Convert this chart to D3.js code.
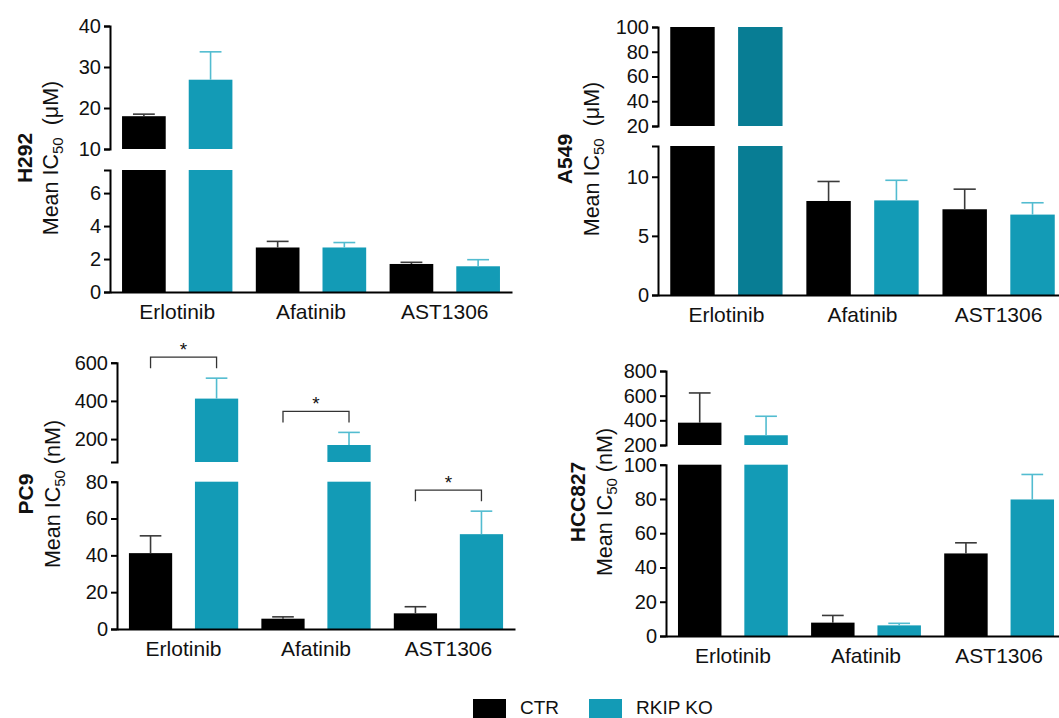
<!DOCTYPE html>
<html>
<head>
<meta charset="utf-8">
<script src="https://cdn.jsdelivr.net/npm/d3@7"></script>
<style>
  body { margin: 0; background: #fff; }
  svg { display: block; font-family: "Liberation Sans", Arial, sans-serif; }
  .axis path, .axis line { stroke: #000; stroke-width: 2; }
  .axis text { font-size: 20px; fill: #111; }
  .xlab text { font-size: 21px; }
</style>
</head>
<body>
<svg id="chart" width="1059" height="718"></svg>
<script>
// drugs and groups
var drugs = ['Erlotinib', 'Afatinib', 'AST1306'];
var groups = ['CTR', 'RKIP KO'];

// H292 (uM)
var h292Ctr    = [18.0, 2.7, 1.7];
var h292CtrErr = [0.5, 0.37, 0.1];
var h292Ko     = [26.9, 2.7, 1.56];
var h292KoErr  = [6.8, 0.3, 0.4];

// A549 (uM), erlotinib capped at 100
var a549Ctr    = [100, 7.95, 7.25];
var a549CtrErr = [0, 1.65, 1.7];
var a549Ko     = [100, 8.0, 6.8];
var a549KoErr  = [0, 1.7, 1.0];

// PC9 (nM)
var pc9Ctr    = [41.2, 5.6, 8.5];
var pc9CtrErr = [9.4, 1.0, 3.6];
var pc9Ko     = [412, 169, 51.5];
var pc9KoErr  = [107, 66, 12.5];
var pc9Sig    = ['*', '*', '*'];

// HCC827 (nM)
var hccCtr    = [381, 7.8, 48.2];
var hccCtrErr = [241, 4.2, 6.2];
var hccKo     = [279, 6.2, 79.7];
var hccKoErr  = [154, 1.2, 14.6];

var colCtr = '#000000', colKo = '#139bb6', colKoCapped = '#087d94';
var errCtr = '#3a3a3a', errKo = '#52bcd0';

var svg = d3.select('#chart');

var panels = [
  { name: 'H292', unit: '\u00a0 (\u03bcM)', ctr: h292Ctr, ctrErr: h292CtrErr, ko: h292Ko, koErr: h292KoErr,
    axisX: 110, xEnd: 512, lowDom: [0, 7.4], lowRange: [292, 170], lowTicks: [0, 2, 4, 6],
    upDom: [10, 40], upRange: [149, 26], upTicks: [10, 20, 30, 40],
    nameX: 32, titleX: 58, titleY: 158 },
  { name: 'A549', unit: '\u00a0 (\u03bcM)', ctr: a549Ctr, ctrErr: a549CtrErr, ko: a549Ko, koErr: a549KoErr,
    axisX: 658, xEnd: 1067, lowDom: [0, 12.6], lowRange: [295, 146], lowTicks: [0, 5, 10],
    upDom: [20, 100], upRange: [126, 27], upTicks: [20, 40, 60, 80, 100],
    nameX: 572, titleX: 599, titleY: 159 },
  { name: 'PC9', unit: ' (nM)', ctr: pc9Ctr, ctrErr: pc9CtrErr, ko: pc9Ko, koErr: pc9KoErr, sig: pc9Sig,
    axisX: 117, xEnd: 515, lowDom: [0, 80], lowRange: [629, 481.7], lowTicks: [0, 20, 40, 60, 80],
    upDom: [80, 600], upRange: [462, 362.7], upTicks: [200, 400, 600],
    nameX: 33, titleX: 60, titleY: 494 },
  { name: 'HCC827', unit: ' (nM)', ctr: hccCtr, ctrErr: hccCtrErr, ko: hccKo, koErr: hccKoErr,
    axisX: 666, xEnd: 1066, lowDom: [0, 100], lowRange: [636, 464.7], lowTicks: [0, 20, 40, 60, 80, 100],
    upDom: [200, 800], upRange: [445, 371], upTicks: [200, 400, 600, 800],
    nameX: 585, titleX: 612, titleY: 502 }
];

panels.forEach(drawPanel);

function drawPanel(p) {
  var g = svg.append('g');

  var x0 = d3.scaleBand().domain(drugs).range([p.axisX, p.xEnd])
      .paddingInner(0.175).paddingOuter(0.09);
  var x1 = d3.scaleBand().domain(groups).range([0, x0.bandwidth()])
      .paddingInner(0.345).paddingOuter(0);
  var yL = d3.scaleLinear().domain(p.lowDom).range(p.lowRange);
  var yU = d3.scaleLinear().domain(p.upDom).range(p.upRange);
  var lowMax = p.lowDom[1];

  var rows = [];
  drugs.forEach(function(d, i) {
    rows.push({ drug: d, group: 'CTR', v: p.ctr[i], e: p.ctrErr[i] });
    rows.push({ drug: d, group: 'RKIP KO', v: p.ko[i], e: p.koErr[i] });
  });

  rows.forEach(function(r) {
    var bx = x0(r.drug) + x1(r.group), bw = x1.bandwidth();
    var capped = r.v >= p.upDom[1];
    var fill = r.group === 'CTR' ? colCtr : (capped ? colKoCapped : colKo);
    if (r.v <= lowMax) {
      g.append('rect').attr('x', bx).attr('width', bw)
        .attr('y', yL(r.v)).attr('height', yL(0) - yL(r.v)).attr('fill', fill);
    } else {
      g.append('rect').attr('x', bx).attr('width', bw)
        .attr('y', yL(lowMax)).attr('height', yL(0) - yL(lowMax)).attr('fill', fill);
      var top = Math.min(r.v, p.upDom[1]);
      g.append('rect').attr('x', bx).attr('width', bw)
        .attr('y', yU(top)).attr('height', yU(p.upDom[0]) - yU(top)).attr('fill', fill);
    }
    if (r.e > 0) {
      var y = r.v <= lowMax ? yL : yU;
      var cx = bx + bw / 2;
      var ec = r.group === 'CTR' ? errCtr : errKo;
      g.append('line').attr('x1', cx).attr('x2', cx)
        .attr('y1', y(r.v)).attr('y2', y(r.v + r.e))
        .attr('stroke', ec).attr('stroke-width', 1.6);
      g.append('line').attr('x1', cx - bw / 4).attr('x2', cx + bw / 4)
        .attr('y1', y(r.v + r.e)).attr('y2', y(r.v + r.e))
        .attr('stroke', ec).attr('stroke-width', 1.6);
    }
    r.errTop = (r.v <= lowMax ? yL : yU)(r.v + r.e);
    r.cx = bx + bw / 2;
  });

  // significance brackets
  if (p.sig) {
    drugs.forEach(function(d, i) {
      if (!p.sig[i]) return;
      var a = rows[i * 2], b = rows[i * 2 + 1];
      var by = Math.min(a.errTop, b.errTop) - 21;
      g.append('path')
        .attr('d', 'M' + a.cx + ',' + (by + 11) + 'V' + by + 'H' + b.cx + 'V' + (by + 11))
        .attr('fill', 'none').attr('stroke', '#333').attr('stroke-width', 1.3);
      g.append('text').attr('x', (a.cx + b.cx) / 2).attr('y', by - 1)
        .attr('text-anchor', 'middle').style('font-size', '19px').attr('fill', '#111')
        .text(p.sig[i]);
    });
  }

  // y axes (two segments)
  g.append('g').attr('class', 'axis').attr('transform', 'translate(' + p.axisX + ',0)')
    .call(d3.axisLeft(yL).tickValues(p.lowTicks).tickSize(6).tickSizeOuter(6).tickPadding(3));
  g.append('g').attr('class', 'axis').attr('transform', 'translate(' + p.axisX + ',0)')
    .call(d3.axisLeft(yU).tickValues(p.upTicks).tickSize(6).tickSizeOuter(6).tickPadding(3));

  // x axis
  g.append('g').attr('class', 'axis xlab').attr('transform', 'translate(0,' + yL(0) + ')')
    .call(d3.axisBottom(x0).tickSize(0).tickSizeOuter(0).tickPadding(12));

  // titles
  g.append('text')
    .attr('transform', 'translate(' + p.nameX + ',' + p.titleY + ') rotate(-90)')
    .attr('text-anchor', 'middle').style('font-size', '21px').style('font-weight', 'bold')
    .attr('fill', '#111').text(p.name);
  var t = g.append('text')
    .attr('transform', 'translate(' + p.titleX + ',' + p.titleY + ') rotate(-90)')
    .attr('text-anchor', 'middle').style('font-size', '21.5px').attr('fill', '#111');
  t.append('tspan').text('Mean IC');
  t.append('tspan').attr('dy', 5).style('font-size', '15px').text('50');
  t.append('tspan').attr('dy', -5).text(p.unit);
}

// legend
var legend = svg.append('g').attr('transform', 'translate(473,699)');
var legX = [0, 116];
groups.forEach(function(gname, i) {
  legend.append('rect').attr('x', legX[i]).attr('y', 0).attr('width', 33).attr('height', 19)
    .attr('fill', i === 0 ? colCtr : colKo);
  legend.append('text').attr('x', legX[i] + 47).attr('y', 15)
    .style('font-size', '19px').attr('fill', '#111').text(gname);
});
</script>
</body>
</html>
